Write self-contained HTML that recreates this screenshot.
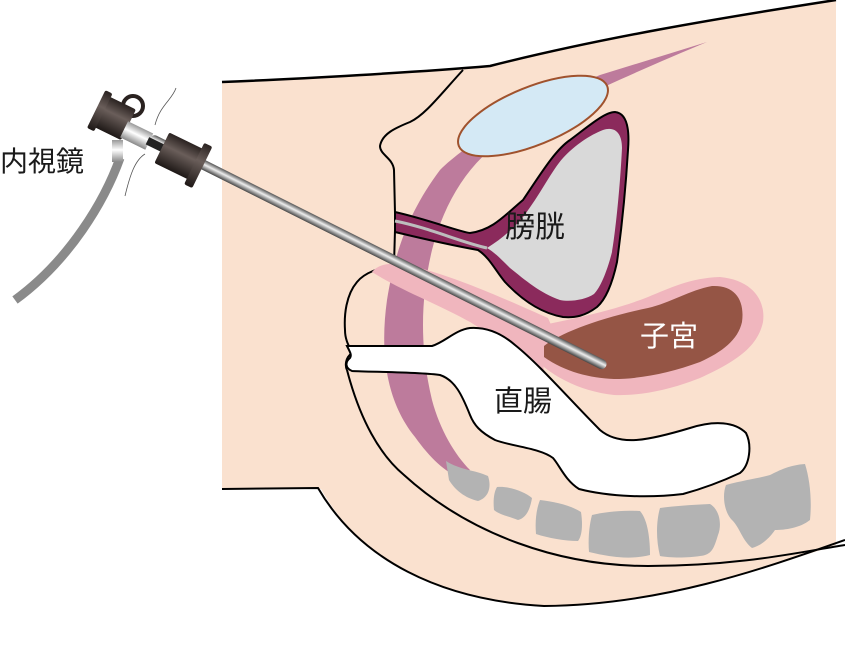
<!DOCTYPE html>
<html><head><meta charset="utf-8"><style>
html,body{margin:0;padding:0;background:#fff;}
svg{display:block}
text{font-family:"Liberation Sans","Noto Sans CJK JP",sans-serif;}
</style></head><body>
<svg width="845" height="648" viewBox="0 0 845 648" xmlns="http://www.w3.org/2000/svg">
<defs>
<linearGradient id="rod" x1="0" y1="0" x2="0" y2="1">
<stop offset="0" stop-color="#555"/><stop offset="0.45" stop-color="#eee"/><stop offset="1" stop-color="#444"/>
</linearGradient>
<linearGradient id="dk" x1="0" y1="0" x2="0" y2="1">
<stop offset="0" stop-color="#2a2220"/><stop offset="0.4" stop-color="#6a5e5a"/><stop offset="1" stop-color="#1e1816"/>
</linearGradient>
<linearGradient id="wh" x1="0" y1="0" x2="0" y2="1">
<stop offset="0" stop-color="#999"/><stop offset="0.45" stop-color="#fff"/><stop offset="1" stop-color="#888"/>
</linearGradient>
</defs>
<path d="M222,82 C300,79 420,72 490,66 C600,38 720,18 836,0 L836,545 C760,570 660,605 544,606 C440,600 360,560 321,489 L222,489 Z" fill="#fae1cf"/>
<path d="M222,82 C300,79 420,72 490,66 C600,38 720,18 836,0" fill="none" stroke="#000" stroke-width="2.5"/>
<path d="M222,489 L318,488 C360,560 440,600 544,606 C660,605 760,570 845,540" fill="none" stroke="#000" stroke-width="2"/>
<path d="M347,370 C360,420 380,455 404,475 C470,535 560,566 648,566 C740,566 800,552 845,545" fill="none" stroke="#000" stroke-width="2"/>
<path d="M463,70 C440,95 425,115 410,122 C395,128 382,134 380,146 C380,155 393,158 394,170 L395,213" fill="none" stroke="#000" stroke-width="2"/>
<path d="M395,230 L394,265 C380,268 365,272 357,282 C346,295 344,315 345,330 C345,343 352,350 352,353 C345,358 345,366 347,370" fill="#fae1cf" stroke="#000" stroke-width="2"/>
<path d="M707,42 L600,75 C540,100 470,140 440,170 C410,210 395,250 387,300 C380,350 385,400 415,437 C430,458 445,472 460,478 L470,470 C455,455 440,430 432,400 C420,350 420,300 432,250 C445,200 470,160 510,135 C560,105 640,70 707,42 Z" fill="#bd7b9c"/>
<path d="M372,272 C380,262 395,262 420,268 C470,282 520,306 548,318 L560,345 C545,360 540,368 546,372 C520,360 500,340 470,322 C440,305 400,290 372,272 Z" fill="#f0b6be"/>
<path d="M516,330 C560,322 610,312 648,297 C670,288 690,278 720,277 C752,280 766,300 763,322 C758,345 740,360 700,378 C670,390 640,396 614,395 C585,392 560,380 544,367 C530,355 520,343 516,330 Z" fill="#f0b6be"/>
<path d="M544,346 C560,333 600,318 648,308 C670,303 690,290 712,286 C735,285 745,300 742,322 C738,340 722,352 700,362 C670,373 640,379 614,379 C590,378 565,372 544,357 Z" fill="#955545"/>
<ellipse cx="533" cy="116" rx="80" ry="29" transform="rotate(-22 533 116)" fill="#d4e9f5" stroke="#a0522d" stroke-width="2"/>
<path d="M395,212 C430,220 460,232 470,233 C493,230 505,215 523,200 C540,175 555,150 570,140 C590,125 605,112 615,112 C625,113 630,125 628,150 C625,200 620,240 617,262 C612,285 605,300 597,307 C585,316 575,318 563,317 C540,313 520,298 505,282 C495,270 490,258 478,250 C450,245 420,238 395,232 Z" fill="#8b2a5c" stroke="#000" stroke-width="2"/>
<path d="M603,130 C615,126 622,133 622,148 C620,190 615,235 612,252 C607,272 600,288 594,294 C585,300 570,302 560,300 C540,293 525,280 510,268 C500,258 494,252 487,248 C500,240 512,230 523,217 C540,195 552,170 563,158 C575,145 590,135 603,130 Z" fill="#d9d9d9"/>
<path d="M395,221 C430,228 460,242 487,248" fill="none" stroke="#bdbdbd" stroke-width="3"/>
<path d="M347,346 L432,346 C445,342 455,330 470,328 C485,327 500,332 515,345 C540,365 570,400 600,430 C620,447 650,440 690,428 C715,420 735,422 746,433 C752,445 750,465 740,473 C725,480 705,488 683,494 C650,498 610,497 579,489 C565,480 560,466 553,458 C540,448 510,446 495,440 C480,432 474,425 470,415 C462,395 455,380 440,375 C420,372 370,372 352,371 C345,368 345,362 350,358 C352,355 350,352 347,346 Z" fill="#fff" stroke="#000" stroke-width="2"/>
<g fill="#b3b3b3">
<path d="M446,461 C460,470 475,470 488,476 C492,488 488,498 478,501 C465,498 455,490 449,480 Z"/>
<path d="M497,487 C510,486 525,492 532,498 C530,510 526,518 518,520 C508,516 500,515 494,510 C493,500 494,492 497,487 Z"/>
<path d="M540,500 C555,502 570,505 581,512 C583,525 582,536 578,541 C565,541 548,538 536,534 C535,522 536,510 540,500 Z"/>
<path d="M592,515 C605,512 620,510 640,511 C648,520 650,540 650,555 C630,560 610,557 589,552 C588,540 589,526 592,515 Z"/>
<path d="M660,508 C675,506 690,505 710,504 C720,510 722,525 718,535 C714,548 712,555 700,556 C688,558 670,558 660,556 C656,540 656,522 660,508 Z"/>
<path d="M726,485 C745,480 760,478 770,475 C780,470 790,465 805,464 C810,480 812,500 810,520 C800,528 785,530 775,530 C768,540 760,546 752,548 C742,540 740,528 732,520 C724,512 722,495 726,485 Z"/>
</g>
<path d="M120,158 C105,200 70,260 15,300" fill="none" stroke="#8a8a8a" stroke-width="9"/>
<rect x="112" y="140" width="11" height="22" fill="url(#wh)"/>
<circle cx="133" cy="106" r="10" fill="none" stroke="#2a2220" stroke-width="4"/>
<g transform="rotate(26.6 150 138)">
<rect x="150" y="133" width="510" height="10" rx="5" fill="url(#rod)"/>
</g>
<g transform="rotate(26 130 140)">
<rect x="90" y="110" width="32" height="34" rx="2" fill="url(#dk)"/>
<rect x="86" y="106" width="8" height="42" rx="2" fill="url(#dk)"/>
<rect x="120" y="124" width="28" height="18" fill="url(#wh)"/>
<rect x="146" y="129" width="20" height="8" fill="#222"/>
<rect x="162" y="116" width="40" height="34" rx="2" fill="url(#dk)"/>
<rect x="198" y="110" width="9" height="46" rx="2" fill="url(#dk)"/>
</g>
<path d="M176,88 C172,100 160,105 155,125" fill="none" stroke="#555" stroke-width="0.8"/>
<path d="M145,154 C135,160 130,175 125,196" fill="none" stroke="#555" stroke-width="0.8"/>
<text x="0" y="171" font-size="28" fill="#1a1a1a">内視鏡</text>
<text x="505" y="237" font-size="30" fill="#1a1a1a">膀胱</text>
<text x="640" y="346" font-size="29" fill="#fff">子宮</text>
<text x="494" y="411" font-size="29" fill="#1a1a1a">直腸</text>
</svg>
</body></html>
